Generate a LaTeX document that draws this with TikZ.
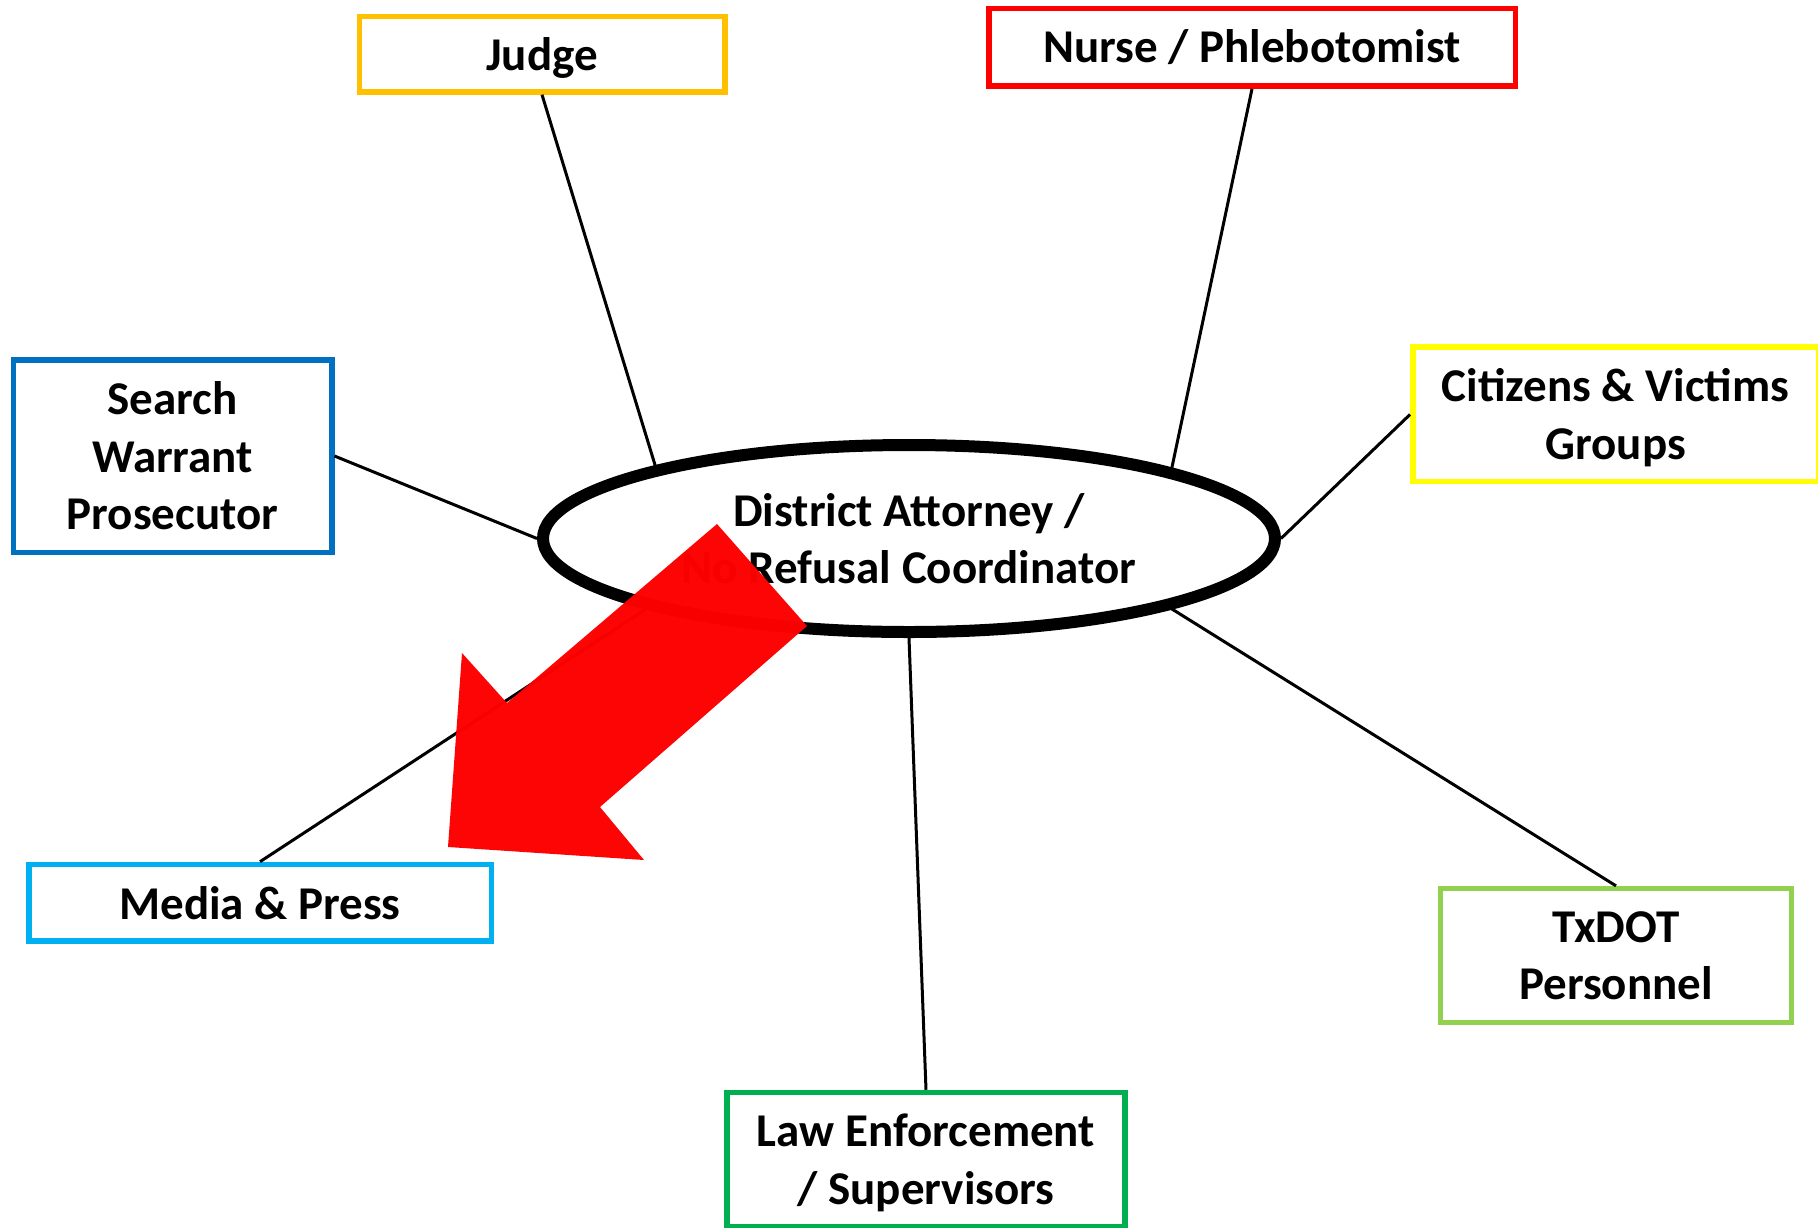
\documentclass[tikz,border=0pt]{standalone}
\usepackage{fontspec}
\setmainfont{Carlito}
\usetikzlibrary{shapes.geometric}
\definecolor{cJudge}{HTML}{FFC000}
\definecolor{cNurse}{HTML}{FF0000}
\definecolor{cSearch}{HTML}{0070C0}
\definecolor{cCit}{HTML}{FFFF00}
\definecolor{cMedia}{HTML}{00B0F0}
\definecolor{cTx}{HTML}{92D050}
\definecolor{cLaw}{HTML}{00B050}
\definecolor{cArrow}{HTML}{FE0000}
\newcommand{\lowerit}[1]{\raisebox{-3.5pt}[\height][\depth]{#1}}
\tikzset{
  lbl/.style={font=\fontsize{47}{57.5}\selectfont\bfseries, align=center, text=black},
  box/.style={lbl, draw, rectangle, line width=5.5pt, inner sep=0pt, fill=white},
  hub/.style={lbl, draw, ellipse, line width=12pt, inner sep=0pt, minimum width=732pt, minimum height=187pt},
  link/.style={line width=3pt, black}
}
\begin{document}
\begin{tikzpicture}[x=1pt,y=-1pt]
\useasboundingbox (0,0) rectangle (1818,1227);
\fill[white] (0,0) rectangle (1818,1227);
\node[hub] (da) at (909,538.5) {District Attorney /\\No Refusal Coordinator};
\node[box, draw=cJudge, minimum width=365.5pt, minimum height=75.5pt] (judge) at (542,54.2) {\lowerit{Judge}};
\node[box, draw=cNurse, minimum width=526.5pt, minimum height=77.5pt] (nurse) at (1252,47.4) {Nurse / Phlebotomist};
\node[box, draw=cSearch, minimum width=318.5pt, minimum height=192.5pt] (search) at (172.5,456) {Search\\Warrant\\Prosecutor};
\node[box, draw=cCit, minimum width=405.5pt, minimum height=134.5pt] (cit) at (1615.6,414.4) {\lowerit{Citizens \& Victims}\\\lowerit{Groups}};
\node[box, draw=cMedia, minimum width=462.5pt, minimum height=76.5pt] (media) at (260,902.7) {Media \& Press};
\node[box, draw=cTx, minimum width=351pt, minimum height=134pt] (tx) at (1616,955.6) {TxDOT\\Personnel};
\node[box, draw=cLaw, minimum width=398pt, minimum height=134pt] (law) at (926,1159.5) {\lowerit{Law Enforcement}\\\lowerit{/ Supervisors}};
\draw[link] (judge.south) -- (da.164.6);
\draw[link] (nurse.south) -- (da.15.4);
\draw[link] (search.east) -- (da.180);
\draw[link] (cit.west) -- (da.0);
\draw[link] (tx.north) -- (da.-15.5);
\draw[link] (law.north) -- (da.-90);
\draw[link] (media.north) -- (da.-165.7);
\fill[cArrow, opacity=0.98] (717,524) -- (807,626) -- (600,807) -- (644,860) -- (448,847) -- (462,653) -- (507,703) -- cycle;
\end{tikzpicture}
\end{document}
